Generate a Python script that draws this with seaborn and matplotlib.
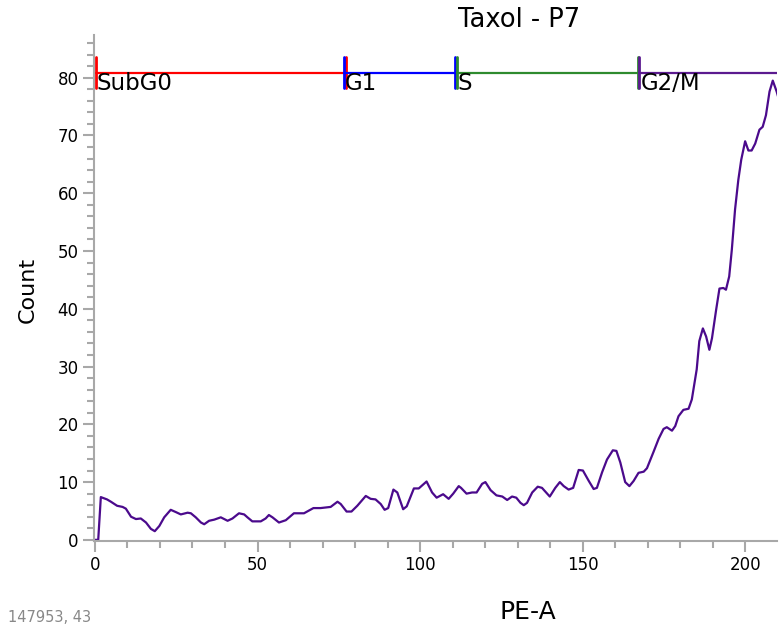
import matplotlib
matplotlib.use('Agg')
import matplotlib.pyplot as plt
from matplotlib.ticker import MultipleLocator
import seaborn as sns

# Histogram trace (PE-A channel vs count)
pe_a = [0, 1.0, 1.8, 3.7, 4.9, 6.8, 8.5, 9.5, 11.1, 12.6,
        14.1, 15.7, 17.2, 18.4, 19.8, 21.3, 23.3, 24.9, 26.4, 28.5,
        29.5, 31.0, 32.6, 33.6, 35.1, 36.7, 38.7, 40.8, 42.3, 44.3,
        45.9, 46.9, 48.4, 51.0, 52.5, 53.5, 54.6, 56.6, 58.7, 61.2,
        64.3, 67.2, 69.4, 72.5, 74.6, 75.6, 77.4, 78.9, 80.7, 83.3,
        84.8, 86.3, 87.9, 89.1, 90.2, 91.8, 93.0, 94.8, 95.9, 98.1,
        99.6, 102.0, 103.7, 105.1, 107.1, 108.8, 110.2, 111.9, 112.6, 114.3,
        116.0, 117.4, 119.1, 120.1, 121.7, 123.5, 125.3, 126.8, 128.3, 129.6,
        130.9, 131.9, 132.9, 134.5, 136.2, 137.5, 138.6, 139.9, 141.6, 143.0,
        144.2, 145.7, 147.1, 148.8, 150.1, 151.9, 153.4, 154.4, 156.0, 157.5,
        159.3, 160.4, 161.6, 163.1, 164.4, 165.7, 167.2, 168.8, 169.8, 171.8,
        173.4, 174.9, 175.9, 177.5, 178.5, 179.5, 181.0, 182.6, 183.6, 185.1,
        185.9, 187.0, 188.0, 189.0, 189.8, 191.1, 192.1, 193.3, 194.1, 195.1,
        195.9, 196.9, 197.9, 198.8, 200.0, 201.0, 202.0, 203.1, 204.4, 205.4,
        206.4, 207.5, 208.5, 209.7, 211]
count = [0, 0, 7.4, 7.0, 6.6, 5.9, 5.7, 5.4, 4.0, 3.6,
         3.7, 3.0, 1.9, 1.5, 2.4, 3.9, 5.2, 4.8, 4.4, 4.7,
         4.6, 3.9, 3.0, 2.7, 3.3, 3.5, 3.9, 3.3, 3.7, 4.6,
         4.4, 3.9, 3.2, 3.2, 3.7, 4.3, 3.9, 3.0, 3.4, 4.6,
         4.6, 5.5, 5.5, 5.7, 6.6, 6.2, 4.9, 4.9, 5.9, 7.6,
         7.1, 7.0, 6.2, 5.2, 5.5, 8.7, 8.2, 5.3, 5.8, 8.9,
         8.9, 10.1, 8.2, 7.3, 7.9, 7.1, 8.0, 9.3, 9.0, 8.0,
         8.2, 8.2, 9.7, 10.0, 8.6, 7.7, 7.5, 6.9, 7.5, 7.3,
         6.4, 6.0, 6.4, 8.2, 9.2, 9.0, 8.3, 7.5, 9.0, 10.0,
         9.3, 8.7, 9.0, 12.1, 12.0, 10.2, 8.8, 9.0, 11.7, 13.9,
         15.5, 15.4, 13.4, 10.0, 9.3, 10.2, 11.6, 11.8, 12.4, 15.2,
         17.5, 19.2, 19.5, 18.9, 19.7, 21.4, 22.5, 22.7, 24.3, 29.5,
         34.4, 36.6, 35.2, 32.9, 34.9, 39.9, 43.5, 43.6, 43.3, 45.6,
         50.2, 57.2, 62.3, 65.8, 69.0, 67.4, 67.4, 68.6, 71.0, 71.5,
         73.5, 77.6, 79.5, 77.6, 75]

# Cell cycle gates
gate_names = ['SubG0', 'G1', 'S', 'G2/M']
gate_start = [0.3, 76.6, 111.3, 167.5]
gate_end = [77.1, 110.6, 166.9, 260]
gate_colors = ['#ff0000', '#0000ff', '#2e8b2e', '#5b1a8f']
gate_level = 80.9

sns.set_theme(style='white')
plt.rcParams['font.family'] = ['DejaVu Sans']
plt.rcParams['text.color'] = 'black'

fig = plt.figure(figsize=(7.82, 6.29), dpi=100)
ax = fig.add_axes([0.1202, 0.1399, 0.8734, 0.8045])

sns.lineplot(x=pe_a, y=count, ax=ax, color='#4b0a8c', linewidth=1.6, sort=False)

# Draw gates: horizontal bar with a marker at each end
for name, x0, x1, c in zip(gate_names, gate_start, gate_end, gate_colors):
    ax.plot([x0, x1], [gate_level, gate_level], color=c, linewidth=1.6)
    for xm in (x0, x1):
        ax.plot([xm, xm], [gate_level - 2.7, gate_level + 2.7], color=c, linewidth=2)
    ax.text(x0 + 0.3, 77.9, name, fontsize=16.5, color='black', ha='left', va='baseline')

ax.set_xlim(-0.3, 209.8)
ax.set_ylim(-0.2, 87.4)
ax.xaxis.set_major_locator(MultipleLocator(50))
ax.xaxis.set_minor_locator(MultipleLocator(10))
ax.yaxis.set_major_locator(MultipleLocator(10))
ax.yaxis.set_minor_locator(MultipleLocator(2))

for side in ['top', 'right']:
    ax.spines[side].set_visible(False)
for side in ['left', 'bottom']:
    ax.spines[side].set_color('#a8a8a8')
    ax.spines[side].set_linewidth(1.5)

ax.tick_params(which='major', direction='out', length=8, width=1.5, color='#a8a8a8',
               labelsize=12, labelcolor='black', pad=3)
ax.tick_params(which='minor', direction='out', length=5, width=1.5, color='#a8a8a8')
ax.tick_params(axis='x', which='both', bottom=True)
ax.tick_params(axis='y', which='both', left=True)
ax.grid(False)

fig.text(519 / 782, 1 - 20 / 629, 'Taxol - P7', fontsize=18.5, ha='center', va='center')
fig.text(28 / 782, 1 - 290 / 629, 'Count', fontsize=16, rotation=90, ha='center', va='center')
fig.text(528 / 782, 1 - 612 / 629, 'PE-A', fontsize=18, ha='center', va='center')
fig.text(8 / 782, 1 - 618 / 629, '147953, 43', fontsize=10.5, color='#888888',
         ha='left', va='center')

fig.savefig('out.png', dpi=100)
